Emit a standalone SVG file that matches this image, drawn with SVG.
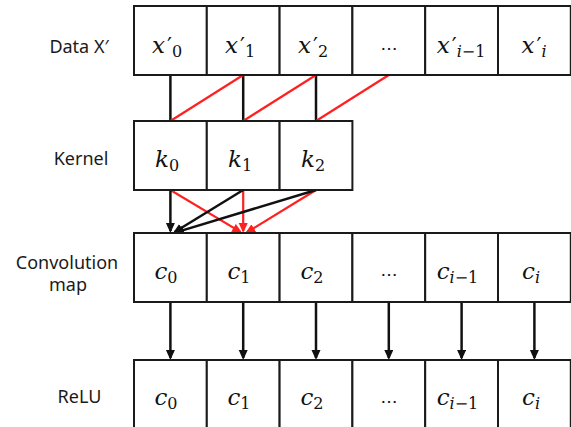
<svg xmlns="http://www.w3.org/2000/svg" width="571" height="427" viewBox="0 0 571 427">
<defs>
<style>
.cell{fill:#fff;stroke:#1a1a1a;stroke-width:2}
.lbl{font-family:"Noto Sans","Open Sans",sans-serif;font-size:18px;fill:#1a1a1a;text-anchor:middle}
.m{font-family:"DejaVu Serif","Liberation Serif",serif;font-size:23px;fill:#111;text-anchor:middle}
.it{font-style:italic}
.pr{font-size:22px}
.sub{font-size:16px}
.dots{font-family:"DejaVu Serif",serif;font-size:17px;fill:#111;text-anchor:middle}
.blk{stroke:#111;stroke-width:2.5;fill:none}
.red{stroke:#ff2020;stroke-width:2.2;fill:none}
</style>
<marker id="ab" markerUnits="userSpaceOnUse" markerWidth="12" markerHeight="12" refX="8" refY="4.5" orient="auto"><path d="M0,0 L10,4.5 L0,9 z" fill="#111"/></marker>
<marker id="ar" markerUnits="userSpaceOnUse" markerWidth="12" markerHeight="12" refX="8" refY="4.5" orient="auto"><path d="M0,0 L10,4.5 L0,9 z" fill="#ff2020"/></marker>
</defs>
<rect width="571" height="427" fill="#fff"/>

<g id="labels">
<text class="lbl" x="79" y="53">Data X′</text>
<text class="lbl" x="81" y="165">Kernel</text>
<text class="lbl" x="67" y="269">Convolution</text>
<text class="lbl" x="68" y="291">map</text>
<text class="lbl" x="79.5" y="403">ReLU</text>
</g>

<g id="connectors">
<line class="blk" x1="170.4" y1="75" x2="170.4" y2="121"/>
<line class="blk" x1="243.2" y1="75" x2="243.2" y2="121"/>
<line class="blk" x1="316" y1="75" x2="316" y2="121"/>
<line class="red" x1="243.2" y1="75" x2="170.4" y2="121"/>
<line class="red" x1="316" y1="75" x2="243.2" y2="121"/>
<line class="red" x1="388.8" y1="75" x2="316" y2="121"/>

<line class="red" x1="170.4" y1="190" x2="240.4" y2="231.9" marker-end="url(#ar)"/>
<line class="red" x1="243.2" y1="190" x2="243.2" y2="231" marker-end="url(#ar)"/>
<line class="red" x1="316" y1="190" x2="246.9" y2="232.3" marker-end="url(#ar)"/>
<line class="blk" x1="170.4" y1="190" x2="170.4" y2="231" marker-end="url(#ab)"/>
<line class="blk" x1="243.2" y1="190" x2="174.7" y2="232" marker-end="url(#ab)"/>
<line class="blk" x1="316" y1="190" x2="175.9" y2="232.4" marker-end="url(#ab)"/>

<line class="blk" x1="170.4" y1="302" x2="170.4" y2="358" marker-end="url(#ab)"/>
<line class="blk" x1="243.2" y1="302" x2="243.2" y2="358" marker-end="url(#ab)"/>
<line class="blk" x1="316" y1="302" x2="316" y2="358" marker-end="url(#ab)"/>
<line class="blk" x1="388.8" y1="302" x2="388.8" y2="358" marker-end="url(#ab)"/>
<line class="blk" x1="461.6" y1="302" x2="461.6" y2="358" marker-end="url(#ab)"/>
<line class="blk" x1="534.4" y1="302" x2="534.4" y2="358" marker-end="url(#ab)"/>
</g>

<g id="data">
<rect class="cell" x="134" y="6" width="72.8" height="69"/>
<rect class="cell" x="206.8" y="6" width="72.8" height="69"/>
<rect class="cell" x="279.6" y="6" width="72.8" height="69"/>
<rect class="cell" x="352.4" y="6" width="72.8" height="69"/>
<rect class="cell" x="425.2" y="6" width="72.8" height="69"/>
<rect class="cell" x="498" y="6" width="72.8" height="69"/>
<text class="m" x="167" y="53"><tspan class="it">x</tspan><tspan class="pr" dx="2">′</tspan><tspan class="sub" dy="4">0</tspan></text>
<text class="m" x="240" y="53"><tspan class="it">x</tspan><tspan class="pr" dx="2">′</tspan><tspan class="sub" dy="4">1</tspan></text>
<text class="m" x="313" y="53"><tspan class="it">x</tspan><tspan class="pr" dx="2">′</tspan><tspan class="sub" dy="4">2</tspan></text>
<text class="dots" x="389" y="50">…</text>
<text class="m" x="461" y="53"><tspan class="it">x</tspan><tspan class="pr" dx="2">′</tspan><tspan class="sub it" dy="4">i</tspan><tspan class="sub">−1</tspan></text>
<text class="m" x="534" y="53"><tspan class="it">x</tspan><tspan class="pr" dx="2">′</tspan><tspan class="sub it" dy="4">i</tspan></text>
</g>

<g id="kernel">
<rect class="cell" x="134" y="121" width="72.8" height="69"/>
<rect class="cell" x="206.8" y="121" width="72.8" height="69"/>
<rect class="cell" x="279.6" y="121" width="72.8" height="69"/>
<text class="m" x="167" y="167"><tspan class="it">k</tspan><tspan class="sub" dy="4">0</tspan></text>
<text class="m" x="240" y="167"><tspan class="it">k</tspan><tspan class="sub" dy="4">1</tspan></text>
<text class="m" x="313" y="167"><tspan class="it">k</tspan><tspan class="sub" dy="4">2</tspan></text>
</g>

<g id="conv">
<rect class="cell" x="134" y="233" width="72.8" height="69"/>
<rect class="cell" x="206.8" y="233" width="72.8" height="69"/>
<rect class="cell" x="279.6" y="233" width="72.8" height="69"/>
<rect class="cell" x="352.4" y="233" width="72.8" height="69"/>
<rect class="cell" x="425.2" y="233" width="72.8" height="69"/>
<rect class="cell" x="498" y="233" width="72.8" height="69"/>
<text class="m" x="166" y="278.5"><tspan class="it">c</tspan><tspan class="sub" dy="4">0</tspan></text>
<text class="m" x="239" y="278.5"><tspan class="it">c</tspan><tspan class="sub" dy="4">1</tspan></text>
<text class="m" x="312" y="278.5"><tspan class="it">c</tspan><tspan class="sub" dy="4">2</tspan></text>
<text class="dots" x="389" y="276">…</text>
<text class="m" x="457.5" y="278.5"><tspan class="it">c</tspan><tspan class="sub it" dy="4">i</tspan><tspan class="sub">−1</tspan></text>
<text class="m" x="531" y="278.5"><tspan class="it">c</tspan><tspan class="sub it" dy="4">i</tspan></text>
</g>

<g id="relu">
<rect class="cell" x="134" y="360" width="72.8" height="69"/>
<rect class="cell" x="206.8" y="360" width="72.8" height="69"/>
<rect class="cell" x="279.6" y="360" width="72.8" height="69"/>
<rect class="cell" x="352.4" y="360" width="72.8" height="69"/>
<rect class="cell" x="425.2" y="360" width="72.8" height="69"/>
<rect class="cell" x="498" y="360" width="72.8" height="69"/>
<text class="m" x="166" y="405"><tspan class="it">c</tspan><tspan class="sub" dy="4">0</tspan></text>
<text class="m" x="239" y="405"><tspan class="it">c</tspan><tspan class="sub" dy="4">1</tspan></text>
<text class="m" x="312" y="405"><tspan class="it">c</tspan><tspan class="sub" dy="4">2</tspan></text>
<text class="dots" x="389" y="403">…</text>
<text class="m" x="457.5" y="405"><tspan class="it">c</tspan><tspan class="sub it" dy="4">i</tspan><tspan class="sub">−1</tspan></text>
<text class="m" x="531" y="405"><tspan class="it">c</tspan><tspan class="sub it" dy="4">i</tspan></text>
</g>
</svg>
